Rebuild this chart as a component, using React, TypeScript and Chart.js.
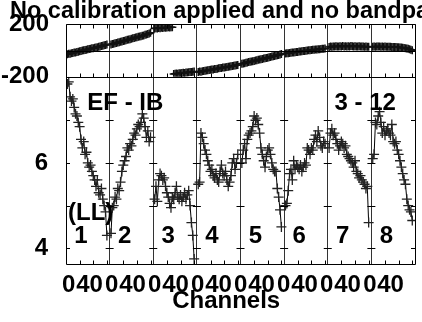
import React, { useEffect, useRef } from "react";
import { Chart, registerables } from "chart.js";

Chart.register(...registerables);

// ---------- data ----------
const channels = [2, 4, 6, 8, 10, 12, 14, 16, 18, 20, 22, 24, 26, 28, 30, 32, 34, 36, 38, 40, 42, 44, 46, 48, 50, 52, 54, 56, 58, 60];

const amp1 = [7.85, 7.9, 7.55, 7.45, 7.5, 7.3, 7.15, 7.1, 6.95, 6.85, 6.55, 6.35, 6.5, 6.2, 6.25, 6.0, 5.9, 5.95, 5.8, 5.7, 5.6, 5.45, 5.6, 5.3, 5.25, 5.4, 5.15, 5.0, 4.85, 4.3];
const amp2 = [4.35, 4.95, 5.0, 5.2, 5.15, 5.4, 5.35, 5.55, 5.8, 5.95, 6.05, 6.15, 6.35, 6.3, 6.45, 6.4, 6.55, 6.7, 6.65, 6.8, 6.9, 6.85, 6.95, 7.15, 7.05, 6.85, 6.6, 6.75, 6.5, 6.6];
const amp3 = [5.15, 5.45, 5.1, 5.6, 5.75, 5.7, 5.6, 5.65, 5.45, 5.3, 5.2, 5.05, 4.95, 5.2, 5.15, 5.3, 5.45, 5.2, 5.15, 5.25, 5.1, 5.2, 5.3, 5.15, 5.25, 5.35, 5.0, 4.6, 4.3, 3.75];
const amp4 = [5.5, 5.55, 6.7, 6.6, 6.45, 6.3, 6.2, 6.05, 5.95, 5.8, 5.85, 5.7, 5.65, 5.75, 5.6, 5.55, 5.8, 5.95, 5.75, 5.7, 5.8, 5.6, 5.45, 5.55, 5.7, 6.0, 6.1, 5.85, 6.0, 6.2];
const amp5 = [6.0, 6.3, 6.45, 6.1, 6.55, 6.65, 6.7, 6.75, 6.85, 7.1, 7.0, 7.05, 6.9, 6.7, 6.35, 6.2, 6.05, 5.9, 6.15, 6.3, 6.35, 6.2, 6.0, 5.85, 5.8, 5.8, 5.4, 5.2, 4.9, 4.5];
const amp6 = [5.0, 5.05, 5.35, 5.75, 5.85, 5.6, 6.05, 5.85, 5.95, 5.9, 5.85, 5.95, 5.8, 5.9, 6.0, 5.95, 6.35, 6.3, 6.2, 6.35, 6.3, 6.55, 6.65, 6.5, 6.75, 6.6, 6.4, 6.35, 6.5, 6.45];
const amp7 = [6.35, 6.7, 6.8, 6.65, 6.7, 6.55, 6.45, 6.3, 6.4, 6.5, 6.45, 6.35, 6.4, 6.2, 6.15, 6.1, 6.05, 6.0, 5.9, 6.05, 5.8, 5.75, 5.65, 5.7, 5.6, 5.55, 5.5, 5.4, 5.45, 4.6];
const amp8 = [6.1, 6.2, 6.95, 6.9, 7.1, 7.2, 6.95, 6.7, 6.85, 6.65, 6.75, 6.8, 6.7, 6.65, 6.9, 6.5, 6.45, 6.5, 6.3, 6.2, 6.05, 5.9, 5.75, 5.6, 5.5, 5.15, 5.0, 4.9, 4.85, 4.65];

const ph1 = [-28, -24, -25, -20, -19, -15, -14, -10, -9, -5, -3, 0, 2, 5, 6, 10, 12, 14, 17, 18, 22, 24, 26, 29, 31, 34, 36, 40, 42, 46];
const ph2 = [46, 50, 52, 55, 58, 62, 64, 67, 70, 73, 76, 78, 82, 85, 87, 90, 94, 96, 99, 102, 105, 107, 110, 114, 116, 120, 123, 127, 131, 136];
const ph3 = [168, 170, 169, 172, 171, 174, 173, 176, 175, 177, 178, 177, 179, 179, -179, -178, -176, -177, -174, -173, -172, -170, -171, -168, -167, -166, -164, -163, -162, -160];
const ph4 = [-163, -160, -161, -158, -156, -155, -152, -151, -149, -147, -145, -144, -141, -140, -138, -136, -134, -133, -130, -129, -127, -125, -124, -121, -120, -118, -116, -115, -113, -111];
const ph5 = [-101, -98, -96, -93, -92, -88, -86, -84, -81, -79, -76, -74, -71, -69, -67, -64, -61, -59, -56, -54, -51, -49, -46, -44, -41, -38, -36, -33, -30, -27];
const ph6 = [-23, -21, -20, -18, -17, -15, -14, -12, -11, -10, -8, -7, -5, -4, -3, -1, 0, 2, 3, 4, 6, 7, 8, 9, 10, 11, 12, 13, 14, 15];
const ph7 = [28, 31, 30, 32, 31, 33, 32, 31, 33, 32, 34, 32, 33, 31, 33, 32, 34, 33, 32, 33, 31, 32, 33, 32, 31, 32, 30, 31, 30, 29];
const ph8 = [30, 31, 30, 31, 32, 31, 30, 31, 30, 31, 30, 29, 30, 29, 28, 28, 27, 27, 26, 25, 24, 23, 21, 20, 18, 16, 13, 10, 6, 2];

const panelNames = ["1", "2", "3", "4", "5", "6", "7", "8"];
const xTickLabels = ["0", "40"];
const ampTickValues = [4, 6];
const ampMinorTicks = [4, 5, 6, 7];
const phaseTickValues = [-200, 200];
const channelMinorTicks = [20, 40, 60];
const titleText = "No calibration applied and no bandpass";
const baselineText = "EF - IB";
const sourceText = "3 - 12";
const polText = "(LL)";
const xAxisTitle = "Channels";

// ---------- layout constants ----------
const CH = 64; // channels per IF panel
const NP = 8;
const LABEL_STEP = 63.1;
const LABEL_OFFSETS = [4, 34.5];
const FAMILY = '"Liberation Sans", Arial, Helvetica, sans-serif';
const FONT = `bold 24px ${FAMILY}`;
const TITLE_FONT = `bold 23.5px ${FAMILY}`;
const tickFont = { family: FAMILY, size: 24, weight: "bold" as const };

const ampPanels = [amp1, amp2, amp3, amp4, amp5, amp6, amp7, amp8];
const phPanels = [ph1, ph2, ph3, ph4, ph5, ph6, ph7, ph8];

function panelPoints(vals: number[], p: number, wrap: boolean) {
  const pts: { x: number; y: number | null }[] = [];
  vals.forEach((v, i) => {
    if (wrap && i > 0 && Math.abs(v - vals[i - 1]) > 180) {
      pts.push({ x: p * CH + (channels[i] + channels[i - 1]) / 2, y: null });
    }
    pts.push({ x: p * CH + channels[i], y: v });
  });
  return pts;
}

const style = {
  borderColor: "#000",
  borderWidth: 1,
  pointStyle: "cross" as const,
  pointBorderColor: "#222",
  pointBackgroundColor: "#222",
  pointHoverRadius: 0,
  fill: false,
  tension: 0,
  spanGaps: false,
};

const possmPlugin = {
  id: "possm",
  afterDatasetsDraw(chart: any) {
    const { ctx } = chart;
    const xs = chart.scales.x;
    const ya = chart.scales.ya;
    const yp = chart.scales.yp;
    const c = (v: number) => Math.round(v) + 0.5;
    const L = c(xs.getPixelForValue(0));
    const R = c(xs.getPixelForValue(NP * CH));
    const T = c(yp.top);
    const M = c(yp.bottom);
    const B = c(ya.bottom);
    ctx.save();
    ctx.strokeStyle = "#000";
    ctx.lineWidth = 1;
    ctx.beginPath();
    ctx.rect(L, T, R - L, B - T);
    ctx.moveTo(L, M);
    ctx.lineTo(R, M);
    const z = c(yp.getPixelForValue(0));
    ctx.moveTo(L, z);
    ctx.lineTo(R, z);
    for (let p = 0; p < NP; p++) {
      channelMinorTicks.forEach((ch) => {
        const px = c(xs.getPixelForValue(p * CH + ch));
        ctx.moveTo(px, T);
        ctx.lineTo(px, T + 4);
        ctx.moveTo(px, M);
        ctx.lineTo(px, M - 4);
        ctx.moveTo(px, B);
        ctx.lineTo(px, B - 4);
      });
    }
    for (let p = 0; p <= NP; p++) {
      const px = xs.getPixelForValue(p * CH);
      ampMinorTicks.forEach((v) => {
        const py = c(ya.getPixelForValue(v));
        ctx.moveTo(p === 0 ? px : px - 4, py);
        ctx.lineTo(p === NP ? px : px + 4, py);
      });
    }
    ctx.stroke();

    ctx.fillStyle = "#000";
    ctx.textBaseline = "alphabetic";
    ctx.textAlign = "left";
    ctx.font = TITLE_FONT;
    ctx.fillText(titleText, 10, 18);
    ctx.font = FONT;
    ctx.fillText(polText, xs.getPixelForValue(3), ya.getPixelForValue(4.65));
    ctx.textAlign = "center";
    ctx.fillText(baselineText, xs.getPixelForValue(87), ya.getPixelForValue(7.25));
    ctx.fillText(sourceText, xs.getPixelForValue(439), ya.getPixelForValue(7.25));
    panelNames.forEach((n, p) => {
      ctx.fillText(n, xs.getPixelForValue(p * CH + 22), ya.getPixelForValue(4.12));
    });
    ctx.fillText(xAxisTitle, xs.getPixelForValue(235), 308);
    ctx.restore();
  },
};

export default function App() {
  const ref = useRef<HTMLCanvasElement | null>(null);

  useEffect(() => {
    if (!ref.current) return;
    const datasets: any[] = [];
    ampPanels.forEach((vals, p) => {
      datasets.push({ ...style, data: panelPoints(vals, p, false), xAxisID: "x", yAxisID: "ya", pointRadius: 5, pointBorderWidth: 1.3 });
    });
    phPanels.forEach((vals, p) => {
      datasets.push({ ...style, data: panelPoints(vals, p, true), xAxisID: "x", yAxisID: "yp", pointRadius: 4, pointBorderWidth: 1.5, pointBorderColor: "#111" });
    });

    const chart = new Chart(ref.current, {
      type: "line",
      data: { datasets },
      plugins: [possmPlugin],
      options: {
        responsive: false,
        animation: false,
        events: [],
        layout: { padding: { top: 20, right: 4, left: 0, bottom: 0 } },
        plugins: {
          legend: { display: false },
          tooltip: { enabled: false },
          title: { display: false },
        },
        scales: {
          x: {
            type: "linear",
            position: "bottom",
            min: 0,
            max: NP * CH,
            afterBuildTicks: (s: any) => {
              const t: any[] = [];
              for (let p = 0; p <= NP; p++) t.push({ value: p * CH, sep: true });
              for (let p = 0; p < NP; p++) {
                xTickLabels.forEach((lbl, k) => t.push({ value: p * LABEL_STEP + LABEL_OFFSETS[k], lbl }));
              }
              t.sort((a, b) => a.value - b.value);
              s.ticks = t;
            },
            afterFit: (s: any) => {
              s.height = 58;
            },
            ticks: {
              autoSkip: false,
              maxRotation: 0,
              minRotation: 0,
              padding: 7,
              color: "#000",
              font: tickFont,
              callback: (_v: any, i: number, t: any[]) => (t[i] && t[i].lbl) || "",
            },
            grid: {
              drawTicks: false,
              lineWidth: 1,
              color: (ctx: any) => (ctx.tick && ctx.tick.sep ? "#333" : "rgba(0,0,0,0)"),
            },
            border: { display: false },
          },
          ya: {
            type: "linear",
            position: "left",
            stack: "v",
            stackWeight: 190.7,
            min: 3.63,
            max: 8.02,
            afterBuildTicks: (s: any) => {
              s.ticks = ampTickValues.map((v) => ({ value: v }));
            },
            afterFit: (s: any) => {
              s.width = 66;
            },
            ticks: { padding: 10, color: "#000", font: tickFont },
            grid: { display: false },
            border: { display: false },
          },
          yp: {
            type: "linear",
            position: "left",
            stack: "v",
            stackWeight: 53.3,
            min: -200,
            max: 200,
            afterBuildTicks: (s: any) => {
              s.ticks = phaseTickValues.map((v) => ({ value: v }));
            },
            afterFit: (s: any) => {
              s.width = 66;
            },
            ticks: { padding: 9, color: "#000", font: tickFont },
            grid: { display: false },
            border: { display: false },
          },
        },
      } as any,
    });
    return () => chart.destroy();
  }, []);

  return (
    <canvas
      ref={ref}
      width={422}
      height={322}
      style={{ position: "fixed", left: 0, top: 0, width: 422, height: 322, background: "#fff" }}
    />
  );
}
